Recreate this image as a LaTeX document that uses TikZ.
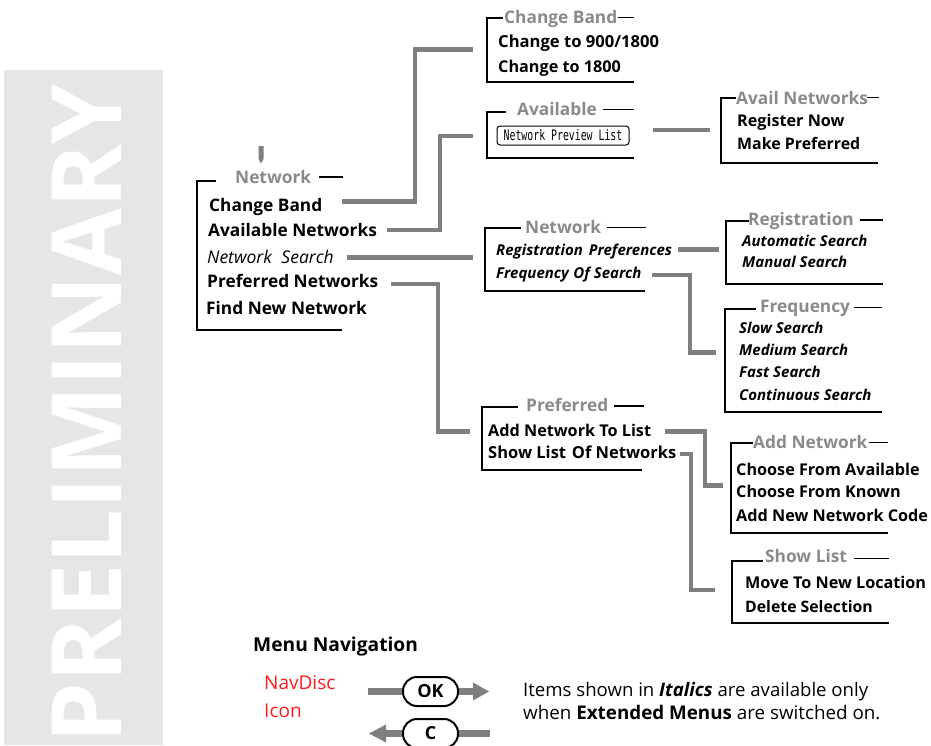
\documentclass[tikz,border=0pt]{standalone}
\usepackage{fontspec}
\setmainfont{Open Sans}
\newfontfamily\lcdfont[FakeStretch=0.68]{DejaVu Sans Mono}
\definecolor{bandgray}{HTML}{E6E6E6}
\definecolor{conngray}{HTML}{7F7F7F}
\definecolor{ttlgray}{HTML}{8A8A8A}
\definecolor{navred}{HTML}{FF1A1A}
\begin{document}
\begin{tikzpicture}[x=1pt,y=-1pt,
  itm/.style={anchor=base west, inner sep=0pt, font=\fontsize{17.3}{20}\selectfont\bfseries},
  itms/.style={anchor=base west, inner sep=0pt, font=\fontsize{16.2}{20}\selectfont\bfseries},
  itr/.style={anchor=base west, inner sep=0pt, font=\fontsize{17.5}{20}\selectfont\itshape},
  iti/.style={anchor=base west, inner sep=0pt, font=\fontsize{15}{18}\selectfont\bfseries\itshape},
  ttl/.style={anchor=base west, inner sep=0pt, text=ttlgray, font=\fontsize{17.3}{20}\selectfont\bfseries},
  brk/.style={line width=1.2pt, line cap=rect},
  conn/.style={draw=conngray, line width=4.5pt, line join=miter},
  navbar/.style={draw=conngray, line width=7pt},
  navhead/.style={fill=conngray, draw=none},
  leg/.style={anchor=base west, inner sep=0pt, font=\fontsize{19}{22}\selectfont},
  btn/.style={draw, line width=2pt, rounded corners=14pt, minimum width=55pt, minimum height=29pt, inner sep=0pt, font=\fontsize{18}{20}\selectfont\bfseries}
]
\useasboundingbox (0,0) rectangle (931,745);
% PRELIMINARY band
\fill[bandgray] (4,70) rectangle (163,745);
\node[rotate=90, anchor=base west, inner sep=0pt, text=white, font=\fontsize{97}{97}\selectfont\bfseries] (prelim) at (121,744) {PRELIMINARY};

% ---- Main Network menu ----
\fill[conngray] (258.5,146) -- (263.5,146) -- (263.5,159) -- (261,163.5) -- (258.5,159) -- cycle;
\node[ttl] (tMain) at (235,183) {Network};
\draw[brk] (215,181) -- (197,181) -- (197,330) -- (341,330);
\draw[brk] (320,177) -- (342,177);
\node[itm] (mCB) at (209,211.7) {Change Band};
\node[itm] (mAN) at (208,236.7) {Available Networks};
\node[itr] (mNS) at (207,263.3) {Network\hspace{0.55em}Search};
\node[itm] (mPN) at (207,287.3) {Preferred Networks};
\node[itm] (mFN) at (206,314.3) {Find New Network};

% ---- Change Band box ----
\node[ttl] (tCB) at (504,23.5) {Change Band};
\draw[brk] (502,18) -- (487,18) -- (487,82) -- (633,82);
\draw[brk] (619,17.5) -- (633,17.5);
\node[itms, font=\fontsize{16.6}{20}\selectfont\bfseries] (cb1) at (498,47.7) {Change to 900/1800};
\node[itms] (cb2) at (498,72.3) {Change to 1800};

% ---- Available box ----
\node[ttl] (tAV) at (517,115) {Available};
\draw[brk] (505,112) -- (487,112) -- (487,158) -- (633,158);
\draw[brk] (604,109.3) -- (633,109.3);
\node[draw, line width=1pt, rounded corners=3pt, minimum width=132pt, minimum height=19pt, inner sep=0pt,
      font=\lcdfont\fontsize{14.5}{15}\selectfont] (npl) at (563,135.5) {Network Preview List};

% ---- Avail Networks box ----
\node[ttl] (tAN) at (736,104) {Avail Networks};
\draw[brk] (735,98) -- (721,98) -- (721,163) -- (877,163);
\draw[brk] (868,97.3) -- (878,97.3);
\node[itms] (an1) at (737,126) {Register Now};
\node[itms, font=\fontsize{15.9}{20}\selectfont\bfseries] (an2) at (737,149.3) {Make Preferred};

% ---- Network search box ----
\node[ttl] (tNS) at (525,233.3) {Network};
\draw[brk] (520,228) -- (485,228) -- (485,291) -- (644,291);
\draw[brk] (608,227.3) -- (645,227.3);
\node[iti] (ns1) at (496,255) {Registration\hspace{0.4em}Preferences};
\node[iti] (ns2) at (496,278.7) {Frequency\hspace{0.3em}Of Search};

% ---- Registration box ----
\node[ttl] (tRG) at (748,225) {Registration};
\draw[brk] (748,221) -- (726,221) -- (726,284) -- (882,284);
\draw[brk] (861,220) -- (882,220);
\node[iti] (rg1) at (742,246) {Automatic Search};
\node[iti] (rg2) at (742,267.7) {Manual Search};

% ---- Frequency box ----
\node[ttl] (tFQ) at (760,312.7) {Frequency};
\draw[brk] (755,309) -- (725,309) -- (725,412) -- (881,412);
\draw[brk] (855,307.7) -- (881,307.7);
\node[iti] (fq1) at (739,333.3) {Slow Search};
\node[iti] (fq2) at (739,355.7) {Medium Search};
\node[iti] (fq3) at (739,377.7) {Fast Search};
\node[iti] (fq4) at (739,400) {Continuous Search};

% ---- Preferred box ----
\node[ttl] (tPF) at (526,411.7) {Preferred};
\draw[brk] (517,407) -- (482,407) -- (482,470) -- (641,470);
\draw[brk] (615,406) -- (643,406);
\node[itms] (pf1) at (488,436) {Add Network To List};
\node[itms, font=\fontsize{16.5}{20}\selectfont\bfseries] (pf2) at (488,458.3) {Show List\hspace{0.35em}Of Networks};

% ---- Add Network box ----
\node[ttl] (tAD) at (753,448.3) {Add Network};
\draw[brk] (752,443) -- (731,443) -- (731,533) -- (887,533);
\draw[brk] (870,442.3) -- (887,442.3);
\node[itms] (ad1) at (736,475) {Choose From Available};
\node[itms] (ad2) at (736,497.3) {Choose From Known};
\node[itms] (ad3) at (736,521.7) {Add New Network Code};

% ---- Show List box ----
\node[ttl] (tSL) at (765,562.7) {Show List};
\draw[brk] (762,561) -- (732,561) -- (732,623) -- (888,623);
\draw[brk] (855,558.3) -- (888,558.3);
\node[itms] (sl1) at (745,588.3) {Move To New Location};
\node[itms, font=\fontsize{15.8}{20}\selectfont\bfseries] (sl2) at (745,612.7) {Delete Selection};

% ---- connectors ----
\coordinate (c1a) at (342,201.5); \coordinate (c1b) at (473,49.3);
\coordinate (c2a) at (387,230);   \coordinate (c2b) at (473,136);
\coordinate (c3a) at (347,257.7); \coordinate (c3b) at (473,257.7);
\coordinate (c4a) at (391,284);   \coordinate (c4b) at (470,431.5);
\coordinate (c5a) at (653,130);   \coordinate (c5b) at (710,130);
\coordinate (c6a) at (678,249.5); \coordinate (c6b) at (719,249.5);
\coordinate (c7a) at (652,275);   \coordinate (c7b) at (716,352.5);
\coordinate (c8a) at (665,431.5); \coordinate (c8b) at (723,485.5);
\coordinate (c9a) at (680,454);   \coordinate (c9b) at (715,590);
\draw[conn] (c1a) -- (415,201.5) -- (415,49.3) -- (c1b);
\draw[conn] (c2a) -- (440,230) -- (440,136) -- (c2b);
\draw[conn] (c3a) -- (c3b);
\draw[conn] (c4a) -- (438,284) -- (438,431.5) -- (c4b);
\draw[conn] (c5a) -- (c5b);
\draw[conn] (c6a) -- (c6b);
\draw[conn] (c7a) -- (690,275) -- (690,352.5) -- (c7b);
\draw[conn] (c8a) -- (705,431.5) -- (705,485.5) -- (c8b);
\draw[conn] (c9a) -- (691,454) -- (691,590) -- (c9b);

% ---- legend ----
\node[itm, font=\fontsize{19.2}{22}\selectfont\bfseries] (menunav) at (253,651) {Menu Navigation};
\node[leg, text=navred] (navdisc) at (264,689) {NavDisc};
\node[leg, text=navred] (icon) at (264,717) {Icon};
\node[btn] (ok) at (430.5,691.5) {OK};
\node[btn] (cbtn) at (430.5,733.5) {C};
\coordinate (okL) at (368,691.5);
\coordinate (okR) at (474,691.5);
\coordinate (cL) at (385,733.5);
\coordinate (cR) at (490,733.5);
\draw[navbar] (okL) -- (ok.west);
\draw[navbar] (ok.east) -- (okR);
\fill[navhead] (473,682.5) -- (489,691.5) -- (473,700.5) -- cycle;
\draw[navbar] (cbtn.east) -- (cR);
\draw[navbar] (cbtn.west) -- (cL);
\fill[navhead] (386,724.5) -- (369,733.5) -- (386,742.5) -- cycle;
\node[leg, font=\fontsize{18.6}{22}\selectfont] (leg1) at (523,696.5) {Items shown in \textbf{\textit{Italics}} are available only};
\node[leg, font=\fontsize{18.8}{22}\selectfont] (leg2) at (523,719.5) {when \textbf{Extended Menus} are switched on.};
\end{tikzpicture}
\end{document}
